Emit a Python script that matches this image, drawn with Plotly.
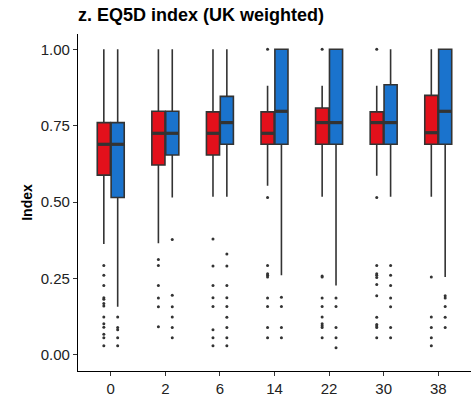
import plotly.graph_objects as go

categories = ["0", "2", "6", "14", "22", "30", "38"]

# Red group box stats
red_lower = [0.363, 0.365, 0.517, 0.553, 0.517, 0.586, 0.517]
red_q1 = [0.588, 0.621, 0.654, 0.689, 0.689, 0.689, 0.689]
red_median = [0.689, 0.725, 0.725, 0.725, 0.760, 0.760, 0.727]
red_q3 = [0.760, 0.797, 0.795, 0.795, 0.808, 0.795, 0.849]
red_upper = [1.0, 1.0, 1.0, 0.881, 0.881, 0.881, 1.0]

# Blue group box stats
blue_lower = [0.157, 0.515, 0.517, 0.260, 0.227, 0.517, 0.255]
blue_q1 = [0.515, 0.654, 0.689, 0.689, 0.689, 0.689, 0.689]
blue_median = [0.689, 0.725, 0.760, 0.797, 0.760, 0.760, 0.797]
blue_q3 = [0.760, 0.797, 0.846, 1.0, 1.0, 0.884, 1.0]
blue_upper = [1.0, 1.0, 1.0, 1.0, 1.0, 1.0, 1.0]

# Outliers per category
red_outliers = [
    [0.292, 0.260, 0.227, 0.187, 0.182, 0.168, 0.160, 0.124, 0.102, 0.090, 0.067, 0.056, 0.030],
    [0.312, 0.292, 0.227, 0.186, 0.157, 0.092],
    [0.379, 0.291, 0.227, 0.187, 0.158, 0.082, 0.056, 0.030],
    [1.0, 0.515, 0.292, 0.265, 0.260, 0.255, 0.186, 0.158, 0.089, 0.056],
    [1.0, 0.258, 0.255, 0.186, 0.158, 0.124, 0.102, 0.095, 0.089, 0.056],
    [1.0, 0.515, 0.292, 0.265, 0.260, 0.253, 0.230, 0.193, 0.123, 0.099, 0.094, 0.089, 0.056],
    [0.255, 0.124, 0.089, 0.056, 0.030],
]
blue_outliers = [
    [0.124, 0.089, 0.082, 0.056, 0.030],
    [0.377, 0.195, 0.157, 0.124, 0.089, 0.056],
    [0.330, 0.291, 0.227, 0.187, 0.158, 0.123, 0.089, 0.056, 0.030],
    [0.188, 0.158, 0.089, 0.056],
    [0.186, 0.158, 0.089, 0.056, 0.023],
    [0.292, 0.260, 0.227, 0.186, 0.157, 0.089, 0.056],
    [0.193, 0.186, 0.158, 0.123, 0.089],
]

RED = "#E3101B"
BLUE = "#1A73CD"
EDGE = "#333333"
OFFSET = 0.127
BW = 0.24

fig = go.Figure()

groups = [
    (-OFFSET, RED, red_lower, red_q1, red_median, red_q3, red_upper, red_outliers),
    (OFFSET, BLUE, blue_lower, blue_q1, blue_median, blue_q3, blue_upper, blue_outliers),
]

for off, col, lo, q1, med, q3, up, outl in groups:
    xs = [i + off for i in range(len(categories))]
    fig.add_trace(go.Box(
        x=xs, q1=q1, median=med, q3=q3, lowerfence=lo, upperfence=up,
        width=BW, fillcolor=col, line=dict(color=EDGE, width=1.6),
        whiskerwidth=0, boxpoints=False, showlegend=False, hoverinfo="skip",
    ))
    # thicker median lines
    mx, my = [], []
    for x, m in zip(xs, med):
        mx += [x - BW / 2, x + BW / 2, None]
        my += [m, m, None]
    fig.add_trace(go.Scatter(x=mx, y=my, mode="lines",
                             line=dict(color=EDGE, width=3.2),
                             showlegend=False, hoverinfo="skip"))
    ox, oy = [], []
    for x, pts in zip(xs, outl):
        ox += [x] * len(pts)
        oy += pts
    fig.add_trace(go.Scatter(x=ox, y=oy, mode="markers",
                             marker=dict(color=EDGE, size=3),
                             showlegend=False, hoverinfo="skip"))

fig.update_layout(
    width=475, height=401,
    margin=dict(l=78, r=4, t=34, b=28),
    paper_bgcolor="white", plot_bgcolor="white",
    boxmode="overlay",
    font=dict(family="Liberation Sans, Arial, sans-serif", color="#222222"),
    title=dict(text="<b>z. EQ5D index (UK weighted)</b>", x=78 / 475, xanchor="left",
               y=1 - 15 / 401, yanchor="middle", font=dict(size=18, color="#000000")),
    xaxis=dict(range=[-0.6, 6.6], tickvals=list(range(len(categories))),
               ticktext=categories, showgrid=False, zeroline=False,
               showline=True, linecolor="#000000", linewidth=1.1,
               ticks="outside", ticklen=4, tickcolor="#333333", tickwidth=1.1,
               tickfont=dict(size=15, color="#222222")),
    yaxis=dict(range=[-0.053, 1.05], tickvals=[0, 0.25, 0.5, 0.75, 1.0],
               tickformat=".2f", showgrid=False, zeroline=False,
               showline=True, linecolor="#000000", linewidth=1.1,
               ticks="outside", ticklen=4, tickcolor="#333333", tickwidth=1.1,
               tickfont=dict(size=15, color="#222222"),
               title=dict(text="<b>Index</b>", standoff=4,
                          font=dict(size=14, color="#000000"))),
)

fig.write_html("out.html")
